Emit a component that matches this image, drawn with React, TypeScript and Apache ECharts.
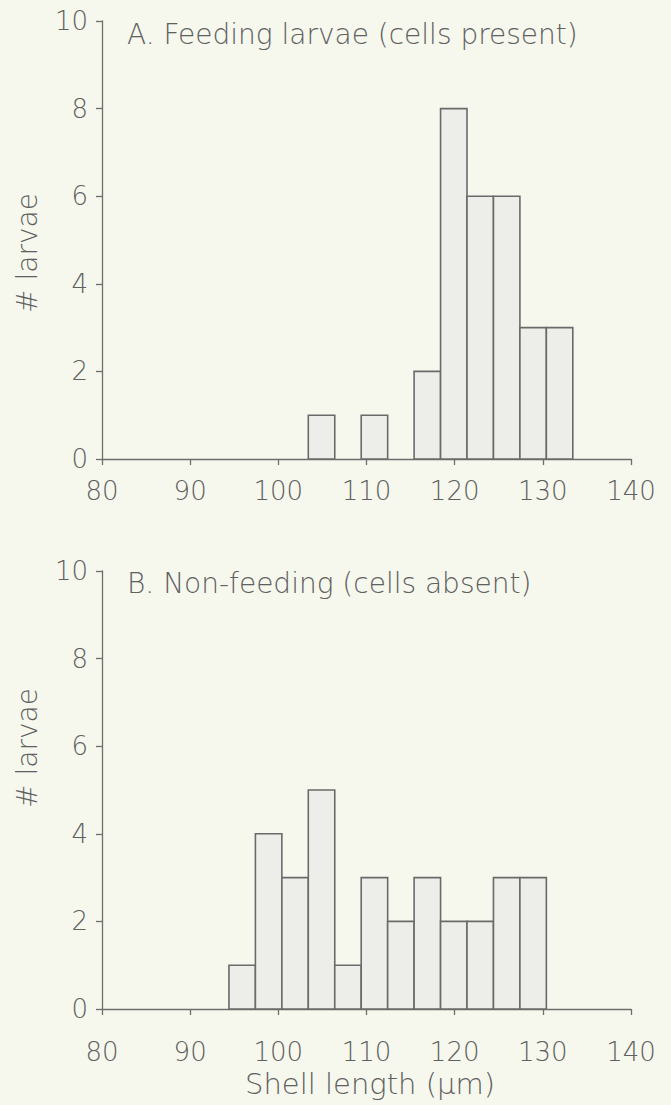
import React, { useEffect, useRef } from "react";
import * as echarts from "echarts";

const binStarts = [94.4, 97.4, 100.4, 103.4, 106.4, 109.4, 112.4, 115.4, 118.4, 121.4, 124.4, 127.4, 130.4];
const binWidth = 3;
const feedingCounts = [0, 0, 0, 1, 0, 1, 0, 2, 8, 6, 6, 3, 3];
const nonFeedingCounts = [1, 4, 3, 5, 1, 3, 2, 3, 2, 2, 3, 3, 0];
const titleA = "A. Feeding larvae (cells present)";
const titleB = "B. Non-feeding (cells absent)";
const yName = "# larvae";
const xName = "Shell length (\u03bcm)";

const FONT = "'DejaVu Sans', sans-serif";
const WEIGHT = 200;
const TEXT = "#606060";
const AXIS = "#6e6e6e";

function toData(counts: number[]) {
  const out: number[][] = [];
  counts.forEach((c, i) => {
    if (c > 0) out.push([binStarts[i], c, binWidth]);
  });
  return out;
}

const renderBin = (params: any, api: any) => {
  const x0 = api.value(0);
  const c = api.value(1);
  const w = api.value(2);
  const p0 = api.coord([x0, c]);
  const p1 = api.coord([x0 + w, 0]);
  return {
    type: "rect",
    shape: { x: p0[0], y: p0[1], width: p1[0] - p0[0], height: p1[1] - p0[1] },
    style: { fill: "#ededE9", stroke: "#6a6a6a", lineWidth: 1.6 },
  };
};

function xAxisCfg(gridIndex: number, margin: number) {
  return {
    type: "value",
    gridIndex,
    min: 80,
    max: 140,
    interval: 10,
    axisLine: { show: true, lineStyle: { color: AXIS, width: 1.3 } },
    axisTick: { show: true, inside: false, length: 6, lineStyle: { color: AXIS, width: 1.3 } },
    axisLabel: { color: TEXT, fontSize: 26, fontFamily: FONT, fontWeight: WEIGHT, margin },
    splitLine: { show: false },
  };
}

function yAxisCfg(gridIndex: number) {
  return {
    type: "value",
    gridIndex,
    min: 0,
    max: 10,
    interval: 2,
    axisLine: { show: true, lineStyle: { color: AXIS, width: 1.3 } },
    axisTick: { show: true, inside: false, length: 6, lineStyle: { color: AXIS, width: 1.3 } },
    axisLabel: { color: TEXT, fontSize: 26, fontFamily: FONT, fontWeight: WEIGHT, margin: 14 },
    splitLine: { show: false },
  };
}

function textEl(text: string, x: number, y: number, size: number, rotation = 0, align = "left") {
  return {
    type: "text",
    x,
    y,
    rotation,
    style: {
      text,
      fill: TEXT,
      font: `${WEIGHT} ${size}px ${FONT}`,
      textAlign: align,
      textVerticalAlign: "middle",
    },
  };
}

export default function App() {
  const ref = useRef<HTMLDivElement>(null);
  useEffect(() => {
    if (!ref.current) return;
    const chart = echarts.init(ref.current, null, { renderer: "svg" });
    chart.setOption({
      animation: false,
      backgroundColor: "#f6f8ee",
      grid: [
        { left: 102, width: 529, top: 21, height: 438 },
        { left: 102, width: 529, top: 571, height: 438 },
      ],
      xAxis: [xAxisCfg(0, 19), xAxisCfg(1, 30)],
      yAxis: [yAxisCfg(0), yAxisCfg(1)],
      series: [
        {
          type: "custom",
          xAxisIndex: 0,
          yAxisIndex: 0,
          renderItem: renderBin,
          encode: { x: 0, y: 1 },
          data: toData(feedingCounts),
        },
        {
          type: "custom",
          xAxisIndex: 1,
          yAxisIndex: 1,
          renderItem: renderBin,
          encode: { x: 0, y: 1 },
          data: toData(nonFeedingCounts),
        },
      ],
      graphic: [
        textEl(titleA, 127, 34, 28),
        textEl(titleB, 127, 583, 28),
        textEl(yName, 27, 253, 28, Math.PI / 2, "center"),
        textEl(yName, 27, 748, 28, Math.PI / 2, "center"),
        textEl(xName, 370, 1084, 29, 0, "center"),
      ],
    });
    return () => chart.dispose();
  }, []);
  return (
    <div
      ref={ref}
      style={{ position: "absolute", left: 0, top: 0, width: 671, height: 1105 }}
    />
  );
}
